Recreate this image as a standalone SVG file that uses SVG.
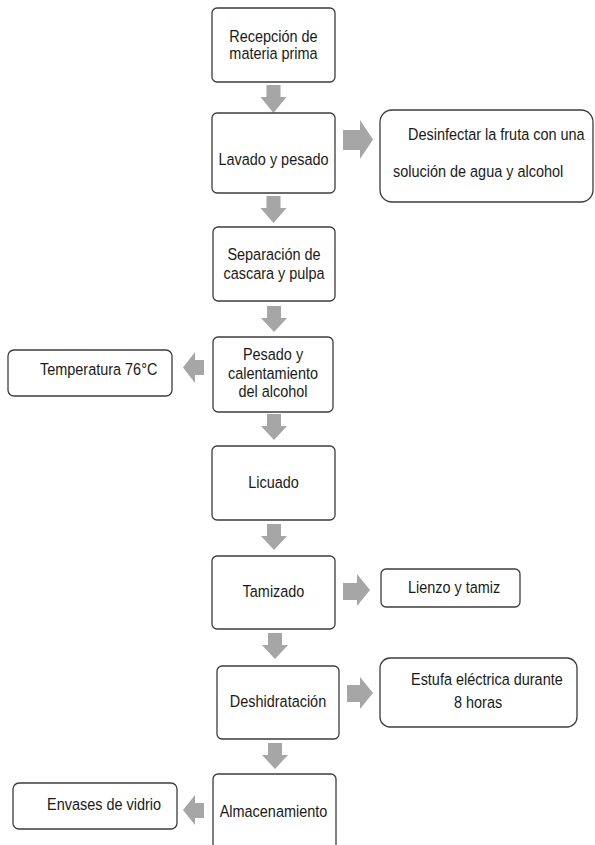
<svg xmlns="http://www.w3.org/2000/svg" width="595" height="845" viewBox="0 0 595 845">
<style>
.box{fill:#fff;stroke:#3c3c3c;stroke-width:1.3}
.arr{fill:#a6a6a6;stroke:none}
.t{font-family:"Liberation Sans",Arial,sans-serif;font-size:17px;fill:#1a1a1a}
.c{text-anchor:middle}
</style>
<rect width="595" height="845" fill="#fff"/>
<g id="connectors">
<polygon class="arr" points="266.5,85 280.5,85 280.5,97 286.5,97 273.5,113 260.5,97 266.5,97"/>
<polygon class="arr" points="266.5,196 280.5,196 280.5,208 286.5,208 273.5,223 260.5,208 266.5,208"/>
<polygon class="arr" points="267,306 281,306 281,318 287,318 274,332 261,318 267,318"/>
<polygon class="arr" points="267,414 281,414 281,426 287,426 274,440 261,426 267,426"/>
<polygon class="arr" points="267,524 281,524 281,536 287,536 274,550 261,536 267,536"/>
<polygon class="arr" points="268,633 282,633 282,645 288,645 275,659 262,645 268,645"/>
<polygon class="arr" points="268,743 282,743 282,755 288,755 275,769 262,755 268,755"/>
<polygon class="arr" points="343,130 360,130 360,120 373,139.5 360,159 360,150 343,150"/>
<polygon class="arr" points="343,583 357,583 357,574 370,590 357,606 357,600 343,600"/>
<polygon class="arr" points="347,685 360,685 360,677 373,693 360,709 360,702 347,702"/>
<polygon class="arr" points="204,360 195,360 195,352 183,367.5 195,383 195,375 204,375"/>
<polygon class="arr" points="204,803 195,803 195,795 183,810 195,825 195,818 204,818"/>
</g>
<g id="n1"><rect class="box" x="212" y="8" width="123" height="74" rx="5"/>
<text class="t c" transform="translate(273.5,42) scale(0.85,1)">Recepción de</text>
<text class="t c" transform="translate(273.5,59) scale(0.85,1)">materia prima</text></g>
<g id="n2"><rect class="box" x="212" y="113" width="123" height="80" rx="5"/>
<text class="t c" transform="translate(273.5,165) scale(0.85,1)">Lavado y pesado</text></g>
<g id="s1"><rect class="box" x="380" y="110" width="213" height="92" rx="12"/>
<text class="t" transform="translate(408,140) scale(0.85,1)">Desinfectar la fruta con una</text>
<text class="t" transform="translate(393,177) scale(0.85,1)">solución de agua y alcohol</text></g>
<g id="n3"><rect class="box" x="213" y="227" width="122" height="74" rx="5"/>
<text class="t c" transform="translate(274,260) scale(0.85,1)">Separación de</text>
<text class="t c" transform="translate(274,279) scale(0.85,1)">cascara y pulpa</text></g>
<g id="n4"><rect class="box" x="213" y="337" width="120" height="75" rx="5"/>
<text class="t c" transform="translate(273,360) scale(0.85,1)">Pesado y</text>
<text class="t c" transform="translate(273,379) scale(0.85,1)">calentamiento</text>
<text class="t c" transform="translate(273,397) scale(0.85,1)">del alcohol</text></g>
<g id="s2"><rect class="box" x="8" y="350" width="164" height="46" rx="6"/>
<text class="t" transform="translate(40,375) scale(0.85,1)">Temperatura 76°C</text></g>
<g id="n5"><rect class="box" x="212" y="446" width="123" height="74" rx="5"/>
<text class="t c" transform="translate(273.5,488) scale(0.85,1)">Licuado</text></g>
<g id="n6"><rect class="box" x="212" y="556" width="123" height="73" rx="5"/>
<text class="t c" transform="translate(273.5,597) scale(0.85,1)">Tamizado</text></g>
<g id="s3"><rect class="box" x="381" y="569" width="139" height="38" rx="5"/>
<text class="t" transform="translate(408,593) scale(0.85,1)">Lienzo y tamiz</text></g>
<g id="n7"><rect class="box" x="217" y="666" width="122" height="73" rx="5"/>
<text class="t c" transform="translate(278,707) scale(0.85,1)">Deshidratación</text></g>
<g id="s4"><rect class="box" x="380" y="658" width="197" height="69" rx="10"/>
<text class="t" transform="translate(411,685) scale(0.85,1)">Estufa eléctrica durante</text>
<text class="t" transform="translate(454,708) scale(0.85,1)">8 horas</text></g>
<g id="n8"><rect class="box" x="213" y="774" width="123" height="85" rx="5"/>
<text class="t c" transform="translate(273.5,817) scale(0.85,1)">Almacenamiento</text></g>
<g id="s5"><rect class="box" x="13" y="783" width="164" height="46" rx="6"/>
<text class="t" transform="translate(47,810) scale(0.85,1)">Envases de vidrio</text></g>
</svg>
